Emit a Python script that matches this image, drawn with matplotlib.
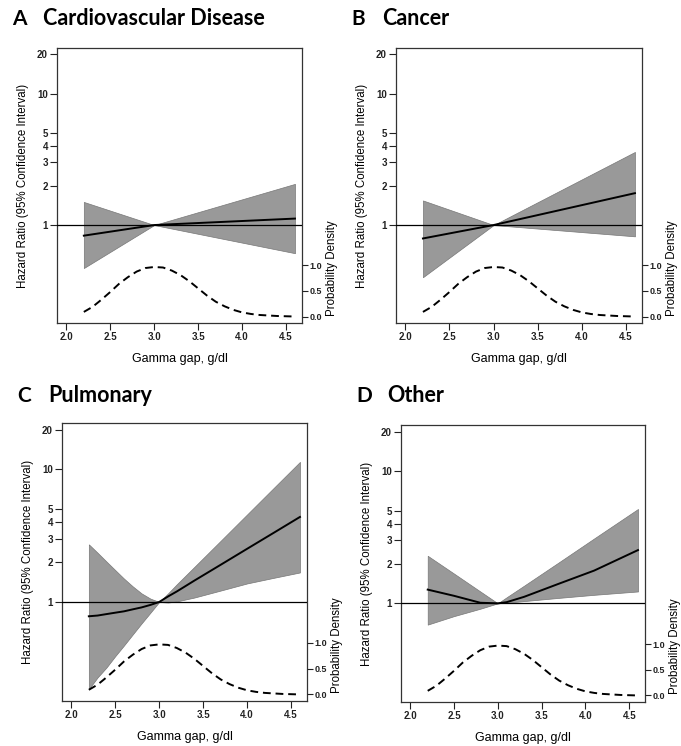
import matplotlib
matplotlib.use('Agg')
from matplotlib import pyplot as plt
from matplotlib import transforms

# density of gamma gap (same in every panel)
dens_x = [2.2, 2.3, 2.4, 2.5, 2.6, 2.7, 2.8, 2.9, 3.0, 3.1, 3.2, 3.3, 3.4,
          3.5, 3.6, 3.7, 3.8, 3.9, 4.0, 4.1, 4.2, 4.3, 4.4, 4.5, 4.6]
dens_y = [0.09, 0.19, 0.33, 0.48, 0.64, 0.77, 0.88, 0.95, 0.97, 0.96, 0.90,
          0.81, 0.69, 0.55, 0.41, 0.29, 0.20, 0.13, 0.08, 0.05, 0.03, 0.02,
          0.01, 0.005, 0.0]

# A - cardiovascular disease
cvd_x = [2.2, 3.0, 4.6]
cvd_hr = [0.83, 1.0, 1.12]
cvd_lo = [0.47, 1.0, 0.61]
cvd_hi = [1.50, 1.0, 2.06]

# B - cancer
can_x = [2.2, 3.0, 4.6]
can_hr = [0.79, 1.0, 1.75]
can_lo = [0.40, 1.0, 0.82]
can_hi = [1.54, 1.0, 3.61]

# C - pulmonary
pul_x = [2.2, 2.3, 2.4, 2.5, 2.6, 2.7, 2.8, 2.9, 3.0, 3.1, 3.2, 3.4, 3.7, 4.0, 4.3, 4.6]
pul_hr = [0.78, 0.79, 0.81, 0.83, 0.85, 0.88, 0.91, 0.95, 1.0, 1.10, 1.20, 1.45, 1.91, 2.52, 3.32, 4.38]
pul_lo = [0.22, 0.27, 0.32, 0.39, 0.47, 0.57, 0.69, 0.83, 1.0, 0.99, 1.01, 1.08, 1.22, 1.38, 1.52, 1.67]
pul_hi = [2.72, 2.35, 2.02, 1.74, 1.50, 1.31, 1.16, 1.06, 1.0, 1.16, 1.36, 1.84, 2.90, 4.58, 7.23, 11.4]

# D - other
oth_x = [2.2, 2.5, 2.8, 3.0, 3.1, 3.3, 3.7, 4.1, 4.6]
oth_hr = [1.27, 1.14, 1.01, 1.0, 1.02, 1.12, 1.41, 1.77, 2.53]
oth_lo = [0.69, 0.80, 0.91, 1.0, 1.01, 1.04, 1.10, 1.16, 1.23]
oth_hi = [2.29, 1.68, 1.23, 1.0, 1.11, 1.36, 2.05, 3.10, 5.18]

x_ticks = [2.0, 2.5, 3.0, 3.5, 4.0, 4.5]
hr_ticks = [1, 2, 3, 4, 5, 10, 20]
dens_ticks = [0.0, 0.5, 1.0]

W, H = 681, 746
panels = [
    ('A', 'Cardiovascular Disease', cvd_x, cvd_hr, cvd_lo, cvd_hi, (57, 48, 302, 323), 25),
    ('B', 'Cancer', can_x, can_hr, can_lo, can_hi, (396, 48, 642, 323), 25),
    ('C', 'Pulmonary', pul_x, pul_hr, pul_lo, pul_hi, (62, 423, 307, 701), 402),
    ('D', 'Other', oth_x, oth_hr, oth_lo, oth_hi, (401, 425, 645, 702), 402),
]

plt.rcParams['font.family'] = ['Liberation Sans', 'DejaVu Sans']
tick_font = dict(family='Liberation Sans', size=7, weight='bold')
dens_font = dict(family='Liberation Sans', size=6.5, weight='bold')
fig = plt.figure(figsize=(W / 100, H / 100), dpi=100)

for letter, name, x, hr, lo, hi, box, title_y in panels:
    left, top, right, bottom = box
    ax = fig.add_axes([left / W, 1 - bottom / H, (right - left) / W, (bottom - top) / H])
    ax.set_yscale('log')
    ax.set_xlim(1.895, 4.68)
    ax.set_ylim(0.179, 22.4)

    ax.fill_between(x, lo, hi, facecolor='#999999', edgecolor='#777777', lw=0.5, zorder=2)
    ax.axhline(1, color='black', lw=0.9, zorder=3)
    ax.plot(x, hr, color='black', lw=1.4, zorder=4)

    ax.set_yticks(hr_ticks)
    ax.set_yticklabels([str(t) for t in hr_ticks], fontdict=tick_font)
    ax.yaxis.set_minor_locator(matplotlib.ticker.NullLocator())
    ax.set_xticks(x_ticks)
    ax.set_xticklabels([f'{t:.1f}' for t in x_ticks], fontdict=tick_font)
    ax.tick_params(direction='out', length=5, width=0.8, pad=1.5, colors='#222222')
    ax.set_xlabel('Gamma gap, g/dl', fontsize=9, labelpad=8)
    ax.set_ylabel('Hazard Ratio (95% Confidence Interval)', fontsize=8.3)
    ax.yaxis.set_label_coords(-0.115, 0.5)
    for sp in ax.spines.values():
        sp.set_linewidth(0.9)
        sp.set_color('#333333')

    ax2 = ax.twinx()
    ax2.set_ylim(-0.127, 5.26)
    ax2.plot(dens_x, dens_y, color='black', lw=1.4, ls=(0, (4, 2.5)), zorder=4)
    ax2.set_yticks(dens_ticks)
    ax2.set_yticklabels([f'{t:.1f}' for t in dens_ticks], fontdict=dens_font)
    ax2.tick_params(direction='out', length=4.5, width=0.8, pad=1.0, colors='#222222')
    for sp in ax2.spines.values():
        sp.set_visible(False)
    trans = transforms.blended_transform_factory(ax2.transAxes, ax2.transData)
    ax2.text(1.122, 0.95, 'Probability Density', transform=trans, rotation=90,
             ha='center', va='center', fontsize=8.3)

    fig.text((left - 45) / W, 1 - title_y / H, letter, fontsize=15, fontweight='bold',
             family='Lato', va='baseline', ha='left')
    fig.text((left - 14) / W, 1 - title_y / H, name, fontsize=15.5, fontweight='bold',
             family='Lato', va='baseline', ha='left')

fig.savefig('out.png', dpi=100)
